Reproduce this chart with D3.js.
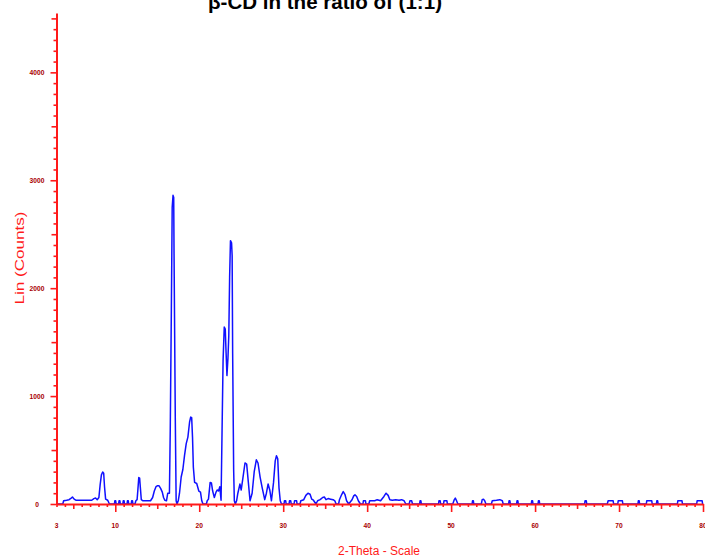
<!DOCTYPE html>
<html>
  <head>
    <meta charset="utf-8" />
    <title>beta-CD XRD pattern</title>
    <style>
      html,
      body {
        margin: 0;
        padding: 0;
        background: #fff;
      }
      svg {
        display: block;
        font-family: "Liberation Sans", Arial, sans-serif;
      }
    </style>
  </head>
  <body>
    <svg id="chart"></svg>
    <script src="https://cdn.jsdelivr.net/npm/d3@7"></script>
    <script>
      // 2-theta positions (deg) and intensities
      const twoTheta = [
        3.0, 3.75, 3.85, 4.2, 4.5, 4.75, 4.9, 5.1, 5.3, 5.8, 6.3, 6.8, 7.2,
        7.45, 7.65, 7.85, 8.05, 8.2, 8.35, 8.5, 8.62, 8.72, 8.85, 9.1, 9.3,
        9.9, 9.95, 10.05, 10.1, 10.4, 10.45, 10.55, 10.6, 10.9, 10.95, 11.05,
        11.1, 11.4, 11.45, 11.55, 11.6, 11.9, 11.95, 12.05, 12.1, 12.35, 12.45,
        12.6, 12.7, 12.8, 12.9, 13.0, 13.1, 13.3, 13.8, 14.2, 14.45, 14.65,
        14.85, 15.05, 15.2, 15.4, 15.6, 15.75, 15.9, 16.1, 16.25, 16.45, 16.55,
        16.68, 16.78, 16.88, 16.96, 17.0, 17.15, 17.25, 17.35, 17.5, 17.65,
        17.85, 18.05, 18.25, 18.45, 18.65, 18.85, 18.98, 19.1, 19.2, 19.3,
        19.45, 19.7, 19.95, 20.15, 20.3, 20.45, 20.85, 20.95, 21.1, 21.3,
        21.45, 21.6, 21.8, 22.0, 22.15, 22.3, 22.45, 22.6, 22.72, 22.84, 22.98,
        23.1, 23.2, 23.3, 23.42, 23.52, 23.62, 23.72, 23.85, 23.92, 23.98,
        24.1, 24.18, 24.3, 24.45, 24.6, 24.85, 25.0, 25.2, 25.45, 25.65, 25.85,
        26.05, 26.3, 26.55, 26.8, 27.0, 27.25, 27.5, 27.8, 28.0, 28.2, 28.4,
        28.6, 28.85, 29.05, 29.2, 29.35, 29.5, 29.65, 29.8, 30.1, 30.15, 30.3,
        30.35, 30.7, 30.75, 30.9, 30.95, 31.3, 31.35, 31.6, 31.65, 32.0, 32.1,
        32.45, 32.7, 32.95, 33.2, 33.4, 33.6, 33.9, 34.1, 34.4, 34.7, 34.9,
        35.1, 35.35, 35.65, 35.95, 36.15, 36.3, 36.6, 36.7, 36.95, 37.15,
        37.35, 37.55, 37.8, 38.2, 38.4, 38.55, 38.75, 38.95, 39.2, 39.5, 39.55,
        39.8, 39.85, 40.2, 40.3, 40.9, 41.2, 41.6, 42.0, 42.25, 42.5, 42.7,
        43.0, 43.4, 43.8, 44.1, 44.4, 44.6, 45.0, 45.1, 45.3, 45.4, 46.25,
        46.3, 46.4, 46.45, 48.5, 48.55, 48.7, 48.75, 49.1, 49.15, 49.5, 49.55,
        50.2, 50.35, 50.5, 50.65, 50.8, 52.5, 52.55, 52.65, 52.7, 53.6, 53.7,
        53.85, 54.0, 54.15, 54.8, 54.9, 55.4, 55.8, 56.1, 56.2, 56.85, 56.9,
        57.0, 57.05, 57.8, 57.85, 57.95, 58.0, 59.55, 59.6, 59.7, 59.75, 60.35,
        60.4, 60.5, 60.55, 65.9, 65.95, 66.1, 66.15, 68.6, 68.7, 69.3, 69.35,
        69.85, 69.9, 70.4, 70.45, 72.25, 72.3, 72.4, 72.45, 73.25, 73.3, 73.9,
        73.95, 74.45, 74.5, 74.6, 74.65, 76.95, 77.0, 77.5, 77.55, 79.25, 79.3,
        79.9, 79.95, 80.0
      ];
      const counts = [
        0, 0, 30, 35, 40, 55, 65, 45, 35, 35, 35, 35, 35,
        50, 55, 40, 60, 180, 270, 296, 285, 160, 45, 35, 0,
        0, 30, 30, 0, 0, 30, 30, 0, 0, 30, 30,
        0, 0, 30, 30, 0, 0, 30, 30, 0, 0, 30,
        40, 140, 245, 240, 140, 40, 30, 30, 30, 60, 120,
        160, 170, 170, 145, 110, 60, 35, 30, 100, 100, 700,
        1800, 2750, 2860, 2840, 2320, 780, 30, 0, 30, 100,
        250, 320, 450, 560, 620, 760, 805, 800, 620, 340,
        200, 190, 120, 110, 30, 0, 0, 30, 45, 200,
        195, 120, 60, 110, 130, 120, 160, 35, 685, 1330, 1640,
        1620, 1400, 1190, 1350, 1560, 2100, 2440, 2420, 2300, 1400,
        315, 30, 0, 30, 100, 185, 130, 240, 380, 370, 200,
        30, 100, 300, 410, 380, 250, 150, 40, 100, 185, 130,
        30, 200, 400, 447, 420, 150, 30, 0, 0, 30, 30,
        0, 0, 30, 30, 0, 0, 30, 30, 0, 0, 30,
        40, 80, 100, 90, 45, 35, 0, 30, 40, 60, 65,
        40, 50, 45, 40, 30, 0, 0, 40, 85, 115,
        90, 30, 0, 40, 75, 85, 70, 30, 0, 0, 30,
        30, 0, 0, 30, 30, 40, 30, 70, 100, 80, 40,
        35, 40, 35, 40, 30, 0, 0, 30, 30, 0, 0,
        30, 30, 0, 0, 30, 30, 0, 0, 30, 30, 0,
        0, 35, 55, 30, 0, 0, 30, 30, 0, 0, 40,
        45, 30, 0, 0, 30, 35, 40, 30, 0, 0, 30,
        30, 0, 0, 30, 30, 0, 0, 30, 30, 0, 0,
        30, 30, 0, 0, 30, 30, 0, 0, 30, 30, 0,
        0, 30, 30, 0, 0, 30, 30, 0, 0, 30, 30,
        0, 0, 30, 30, 0, 0, 30, 30, 0, 0, 30,
        30, 0, 0
      ];
      const xTickLabels = [3, 10, 20, 30, 40, 50, 60, 70, 80];
      const yTickLabels = [0, 1000, 2000, 3000, 4000];

      const width = 705;
      const height = 559;
      const axisRed = "#ff1a1a";
      const labelRed = "#a80000";

      var svg = d3.select("#chart");
      svg.attr("width", width).attr("height", height);

      var x = d3.scaleLinear().domain([3, 80]).range([56.5, 703]);
      var y = d3.scaleLinear().domain([0, 4550]).range([504, 13]);

      // pattern line (drawn first, the axes sit on top of it)
      var data = twoTheta.map(function (t, i) {
        return [t, counts[i]];
      });
      var line = d3
        .line()
        .x(function (d) { return x(d[0]); })
        .y(function (d) { return y(d[1]); });
      svg
        .append("path")
        .datum(data)
        .attr("fill", "none")
        .attr("stroke", "#1010ff")
        .attr("stroke-width", 1.5)
        .attr("stroke-linejoin", "round")
        .attr("d", line);

      // x axis, a tick every degree
      var xAxis = d3
        .axisBottom(x)
        .tickValues(d3.range(3, 81))
        .tickSizeOuter(0)
        .tickFormat("");
      var gx = svg
        .append("g")
        .attr("transform", "translate(0," + y(0) + ")")
        .call(xAxis);
      gx.selectAll(".tick line").attr("y2", function (d) {
        if (d % 10 === 0) return 8;
        if (d % 5 === 0) return 5;
        return 3;
      });

      // y axis, a tick every 100 counts
      var yAxis = d3
        .axisLeft(y)
        .tickValues(d3.range(0, 4501, 100))
        .tickSizeOuter(0)
        .tickFormat("");
      var gy = svg
        .append("g")
        .attr("transform", "translate(" + x(3) + ",0)")
        .call(yAxis);
      gy.selectAll(".tick line").attr("x2", function (d) {
        if (d % 1000 === 0) return -6;
        if (d % 500 === 0) return -5;
        return -3;
      });

      svg.selectAll(".domain, .tick line")
        .attr("stroke", axisRed)
        .attr("stroke-width", 1.6);
      svg.selectAll(".domain").attr("stroke-width", 2);

      // tick labels
      svg
        .append("g")
        .selectAll("text")
        .data(xTickLabels)
        .join("text")
        .attr("x", function (d) { return x(d); })
        .attr("y", 528)
        .attr("text-anchor", "middle")
        .attr("font-size", 8)
        .attr("font-weight", "bold")
        .attr("fill", labelRed)
        .attr("textLength", function (d) { return String(d).length * 3.7; })
        .attr("lengthAdjust", "spacingAndGlyphs")
        .text(function (d) { return d; });

      svg
        .append("g")
        .selectAll("text")
        .data(yTickLabels)
        .join("text")
        .attr("x", 37)
        .attr("y", function (d) { return y(d) + 3; })
        .attr("text-anchor", "middle")
        .attr("font-size", 8)
        .attr("font-weight", "bold")
        .attr("fill", labelRed)
        .attr("textLength", function (d) { return String(d).length * 3.7; })
        .attr("lengthAdjust", "spacingAndGlyphs")
        .text(function (d) { return d; });

      // axis titles
      svg
        .append("text")
        .attr("x", 379)
        .attr("y", 555)
        .attr("text-anchor", "middle")
        .attr("font-size", 12)
        .attr("fill", axisRed)
        .text("2-Theta - Scale");

      svg
        .append("text")
        .attr("transform", "translate(24,258) rotate(-90)")
        .attr("text-anchor", "middle")
        .attr("font-size", 13)
        .attr("fill", axisRed)
        .attr("textLength", 93)
        .attr("lengthAdjust", "spacingAndGlyphs")
        .text("Lin (Counts)");

      // title, its top is cut by the frame
      svg
        .append("text")
        .attr("x", 325)
        .attr("y", 9)
        .attr("text-anchor", "middle")
        .attr("font-size", 21)
        .attr("font-weight", "bold")
        .attr("fill", "#000")
        .attr("textLength", 234)
        .attr("lengthAdjust", "spacingAndGlyphs")
        .text("β-CD in the ratio of (1:1)");
    </script>
  </body>
</html>
